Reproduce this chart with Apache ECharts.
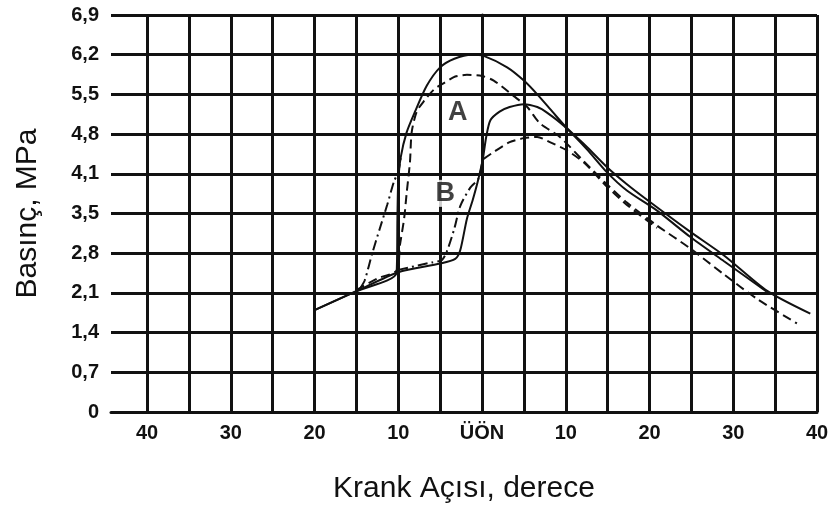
<!DOCTYPE html>
<html>
<head>
<meta charset="utf-8">
<title>Basınç - Krank Açısı</title>
<script src="https://cdn.jsdelivr.net/npm/echarts@6.0.0/dist/echarts.min.js"></script>
<style>
  html, body { margin: 0; padding: 0; background: #fff; }
  #chart { width: 832px; height: 509px; }
</style>
</head>
<body>
<div id="chart"></div>
<script>
// eksen etiketleri
const yStep = 0.69
const yTickLabels = ['0', '0,7', '1,4', '2,1', '2,8', '3,5', '4,1', '4,8', '5,5', '6,2', '6,9']
const xTickValues = [-40, -30, -20, -10, 0, 10, 20, 30, 40]
const xTickLabels = ['40', '30', '20', '10', 'ÜÖN', '10', '20', '30', '40']
const xGridValues = [-40, -35, -30, -25, -20, -15, -10, -5, 0, 5, 10, 15, 20, 25, 30, 35, 40]

// egriler: [krank acisi (derece), basinc (MPa)]
const aSolid = [[-20, 1.77], [-15, 2.10], [-10.2, 2.42], [-10.1, 3.36], [-10.0, 4.01], [-9.7, 4.43],
  [-9.0, 4.86], [-8.0, 5.22], [-6.6, 5.67], [-5.0, 5.99], [-3.3, 6.14], [-1.2, 6.21], [0.2, 6.19],
  [3.0, 5.99], [5.0, 5.76], [6.6, 5.52], [8.4, 5.22], [10.1, 4.94], [12.5, 4.61], [14.9, 4.26],
  [17.3, 3.96], [19.7, 3.69], [24.8, 3.14], [28.9, 2.72], [34.0, 2.11], [39.2, 1.71]]

const aDashed = [[-15, 2.12], [-12.5, 2.32], [-10.2, 2.46], [-9.8, 2.90], [-9.3, 3.36], [-9.0, 3.80],
  [-8.6, 4.35], [-8.4, 4.86], [-7.8, 5.22], [-6.9, 5.41], [-5.7, 5.61], [-4.5, 5.72], [-3.2, 5.83],
  [-1.8, 5.86], [0, 5.84], [1.4, 5.76], [3.8, 5.49], [5.4, 5.30], [6.9, 5.02], [9.3, 4.78],
  [12.2, 4.35], [14.9, 3.96], [17.3, 3.64], [20.9, 3.24], [24.8, 2.85], [28.9, 2.39], [32.8, 1.97],
  [37.6, 1.54]]

const aDashDot = [[-14.5, 2.16], [-14.0, 2.29], [-13.1, 2.76], [-12.2, 3.19], [-11.3, 3.61],
  [-10.5, 4.01], [-10.0, 4.17], [-9.7, 4.43]]

const bSolid = [[-20, 1.77], [-15, 2.10], [-10, 2.43], [-5, 2.58], [-3.2, 2.66], [-2.6, 2.81],
  [-1.8, 3.36], [-1.1, 3.69], [-0.5, 4.01], [0.1, 4.40], [0.5, 4.78], [1.0, 5.07], [2.1, 5.22],
  [3.3, 5.30], [5.0, 5.35], [6.6, 5.30], [7.8, 5.20], [9.8, 4.97], [12.5, 4.57], [14.9, 4.17],
  [17.3, 3.85], [20.9, 3.50], [24.8, 3.05], [28.9, 2.62], [34.0, 2.09]]

const bDashed = [[0.2, 4.40], [1.4, 4.52], [3.3, 4.69], [5.0, 4.76], [6.6, 4.78], [8.1, 4.69],
  [10.1, 4.55], [12.2, 4.33], [14.9, 3.92], [17.3, 3.60], [20.9, 3.20]]

const bDashDot = [[-10, 2.47], [-6, 2.60], [-4.8, 2.64], [-4.2, 2.79], [-3.3, 3.19], [-2.6, 3.58],
  [-1.4, 3.90], [-0.4, 4.06], [0.1, 4.40]]

// egri isimleri
const curveNames = ['A', 'B']
const curveNameX = [-2.9, -4.4]
const curveNameY = [5.21, 3.80]

const font = '"Liberation Sans", Arial, sans-serif'

function curve(data, dash) {
  return {
    type: 'line',
    data: data,
    symbol: 'none',
    smooth: 0.25,
    silent: true,
    lineStyle: { color: '#111', width: 2, type: dash }
  }
}

const chart = echarts.init(document.getElementById('chart'))

chart.setOption({
  animation: false,
  grid: { left: 111, right: 15, top: 15, bottom: 97 },
  xAxis: {
    type: 'value',
    min: -44.3,
    max: 40,
    name: 'Krank Açısı, derece',
    nameLocation: 'middle',
    nameGap: 62,
    nameTextStyle: { fontFamily: font, fontSize: 30, color: '#111' },
    axisLine: { show: true, lineStyle: { color: '#111', width: 3 } },
    axisTick: { show: false, customValues: xGridValues },
    axisLabel: {
      customValues: xTickValues,
      margin: 11,
      fontFamily: font,
      fontSize: 20,
      fontWeight: 'bold',
      color: '#111',
      formatter: v => xTickLabels[xTickValues.indexOf(Math.round(v))]
    },
    splitLine: { show: true, lineStyle: { color: '#111', width: 3 } }
  },
  yAxis: {
    type: 'value',
    min: 0,
    max: 6.9,
    interval: yStep,
    name: 'Basınç, MPa',
    nameLocation: 'middle',
    nameGap: 68,
    nameTextStyle: { fontFamily: font, fontSize: 30, color: '#111' },
    axisLine: { show: true, lineStyle: { color: '#111', width: 3 } },
    axisTick: { show: false },
    axisLabel: {
      margin: 12,
      fontFamily: font,
      fontSize: 20,
      fontWeight: 'bold',
      color: '#111',
      formatter: v => yTickLabels[Math.round(v / yStep)]
    },
    splitLine: { show: true, lineStyle: { color: '#111', width: 3 } }
  },
  series: [
    curve(aSolid, 'solid'),
    curve(aDashed, [9, 5]),
    curve(aDashDot, [10, 4, 2, 4]),
    curve(bSolid, 'solid'),
    curve(bDashed, [9, 5]),
    curve(bDashDot, [10, 4, 2, 4]),
    {
      type: 'scatter',
      symbolSize: 0,
      silent: true,
      z: 5,
      data: curveNames.map((n, i) => ({ name: n, value: [curveNameX[i], curveNameY[i]] })),
      label: {
        show: true,
        position: 'inside',
        formatter: p => p.name,
        fontFamily: font,
        fontSize: 27,
        fontWeight: 'bold',
        color: '#111',
        backgroundColor: '#fff',
        padding: [0, 2]
      }
    }
  ]
})
</script>
</body>
</html>
